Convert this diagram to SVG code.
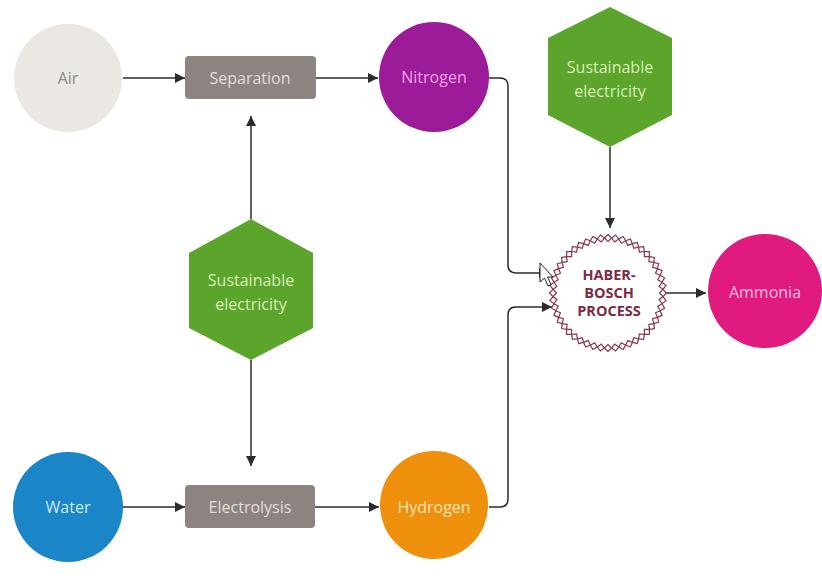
<svg xmlns="http://www.w3.org/2000/svg" xmlns:xlink="http://www.w3.org/1999/xlink" width="822" height="582" viewBox="0 0 822 582">
<style>
text{font-family:"Open Sans",Lato,"Liberation Sans",sans-serif;font-size:16px;text-anchor:middle;dominant-baseline:central}
.con{fill:none;stroke:#2b2b2b;stroke-width:1.5}
.box{fill:#8c8481}
.hex{fill:#5ba52c}
.hext{fill:#d9efb9}
.hb{font-weight:bold;font-size:14.5px;fill:#7d2a44}
</style>
<defs>
<marker id="ah" viewBox="0 0 10 10" refX="10" refY="5" markerWidth="10" markerHeight="10" markerUnits="userSpaceOnUse" orient="auto">
<path d="M0,0 L10,5 L0,10 z" fill="#2b2b2b"/>
</marker>
<polygon id="dia" points="608,234.5 611.6,238 608,241.5 604.4,238" fill="#fff" stroke="#8a3349" stroke-width="1.2"/>
</defs>
<rect width="822" height="582" fill="#fff"/>
<g id="connectors">
<path class="con" d="M123,78 H185" marker-end="url(#ah)"/>
<path class="con" d="M316,78 H378" marker-end="url(#ah)"/>
<path class="con" d="M489,78 H500 Q508,78 508,86 V265 Q508,273 516,273 H549" marker-end="url(#ah)"/>
<path class="con" d="M489,507 H500 Q508,507 508,499 V315 Q508,307 516,307 H552" marker-end="url(#ah)"/>
<path class="con" d="M610,147 V228" marker-end="url(#ah)"/>
<path class="con" d="M251,219 V116" marker-end="url(#ah)"/>
<path class="con" d="M251,360 V466" marker-end="url(#ah)"/>
<path class="con" d="M123,507 H185" marker-end="url(#ah)"/>
<path class="con" d="M315,507 H379" marker-end="url(#ah)"/>
<path class="con" d="M664,293 H706" marker-end="url(#ah)"/>
</g>
<g id="air"><circle cx="68" cy="78" r="54" fill="#ebe7e2"/><text x="68" y="78" fill="#8a8a8a">Air</text></g>
<g id="separation"><rect class="box" x="185" y="56" width="131" height="43" rx="4"/><text x="250" y="78" fill="#e6dcd8">Separation</text></g>
<g id="nitrogen"><circle cx="434" cy="77" r="55" fill="#9c1b98"/><text x="434" y="77" fill="#efa2e8">Nitrogen</text></g>
<g id="electricity-top"><polygon class="hex" points="610,7 672,38 672,115 610,147 548,115 548,38"/><text class="hext" x="610" y="67">Sustainable</text><text class="hext" x="610" y="91">electricity</text></g>
<g id="electricity-mid"><polygon class="hex" points="251,219 313,253 313,328 251,360 189,328 189,253"/><text class="hext" x="251" y="280">Sustainable</text><text class="hext" x="251" y="304">electricity</text></g>
<g id="haber-bosch">
<circle cx="608" cy="293" r="55" fill="#fff"/>
<use xlink:href="#dia" transform="rotate(0 608 293)"/><use xlink:href="#dia" transform="rotate(7.5 608 293)"/><use xlink:href="#dia" transform="rotate(15 608 293)"/><use xlink:href="#dia" transform="rotate(22.5 608 293)"/><use xlink:href="#dia" transform="rotate(30 608 293)"/><use xlink:href="#dia" transform="rotate(37.5 608 293)"/><use xlink:href="#dia" transform="rotate(45 608 293)"/><use xlink:href="#dia" transform="rotate(52.5 608 293)"/><use xlink:href="#dia" transform="rotate(60 608 293)"/><use xlink:href="#dia" transform="rotate(67.5 608 293)"/><use xlink:href="#dia" transform="rotate(75 608 293)"/><use xlink:href="#dia" transform="rotate(82.5 608 293)"/><use xlink:href="#dia" transform="rotate(90 608 293)"/><use xlink:href="#dia" transform="rotate(97.5 608 293)"/><use xlink:href="#dia" transform="rotate(105 608 293)"/><use xlink:href="#dia" transform="rotate(112.5 608 293)"/><use xlink:href="#dia" transform="rotate(120 608 293)"/><use xlink:href="#dia" transform="rotate(127.5 608 293)"/><use xlink:href="#dia" transform="rotate(135 608 293)"/><use xlink:href="#dia" transform="rotate(142.5 608 293)"/><use xlink:href="#dia" transform="rotate(150 608 293)"/><use xlink:href="#dia" transform="rotate(157.5 608 293)"/><use xlink:href="#dia" transform="rotate(165 608 293)"/><use xlink:href="#dia" transform="rotate(172.5 608 293)"/><use xlink:href="#dia" transform="rotate(180 608 293)"/><use xlink:href="#dia" transform="rotate(187.5 608 293)"/><use xlink:href="#dia" transform="rotate(195 608 293)"/><use xlink:href="#dia" transform="rotate(202.5 608 293)"/><use xlink:href="#dia" transform="rotate(210 608 293)"/><use xlink:href="#dia" transform="rotate(217.5 608 293)"/><use xlink:href="#dia" transform="rotate(225 608 293)"/><use xlink:href="#dia" transform="rotate(232.5 608 293)"/><use xlink:href="#dia" transform="rotate(240 608 293)"/><use xlink:href="#dia" transform="rotate(247.5 608 293)"/><use xlink:href="#dia" transform="rotate(255 608 293)"/><use xlink:href="#dia" transform="rotate(262.5 608 293)"/><use xlink:href="#dia" transform="rotate(270 608 293)"/><use xlink:href="#dia" transform="rotate(277.5 608 293)"/><use xlink:href="#dia" transform="rotate(285 608 293)"/><use xlink:href="#dia" transform="rotate(292.5 608 293)"/><use xlink:href="#dia" transform="rotate(300 608 293)"/><use xlink:href="#dia" transform="rotate(307.5 608 293)"/><use xlink:href="#dia" transform="rotate(315 608 293)"/><use xlink:href="#dia" transform="rotate(322.5 608 293)"/><use xlink:href="#dia" transform="rotate(330 608 293)"/><use xlink:href="#dia" transform="rotate(337.5 608 293)"/><use xlink:href="#dia" transform="rotate(345 608 293)"/><use xlink:href="#dia" transform="rotate(352.5 608 293)"/>
<text class="hb" x="609" y="274">HABER-</text><text class="hb" x="609" y="292">BOSCH</text><text class="hb" x="609" y="310">PROCESS</text>
</g>
<g id="ammonia"><circle cx="765" cy="291" r="57" fill="#e01a7e"/><text x="765" y="292" fill="#f7bfe0">Ammonia</text></g>
<g id="water"><circle cx="68" cy="507" r="55" fill="#1a86c8"/><text x="68" y="507" fill="#cde6f7">Water</text></g>
<g id="electrolysis"><rect class="box" x="185" y="485" width="130" height="43" rx="4"/><text x="250" y="507" fill="#e6dcd8">Electrolysis</text></g>
<g id="hydrogen"><circle cx="434" cy="505" r="54" fill="#ef900c"/><text x="434" y="507" fill="#fde3b8">Hydrogen</text></g>
<g id="cursor"><polygon points="540,263 540,282 544.5,278 548,286 551,284.5 547.5,277 553,277" fill="#fff" stroke="#222" stroke-width="1"/></g>
</svg>
